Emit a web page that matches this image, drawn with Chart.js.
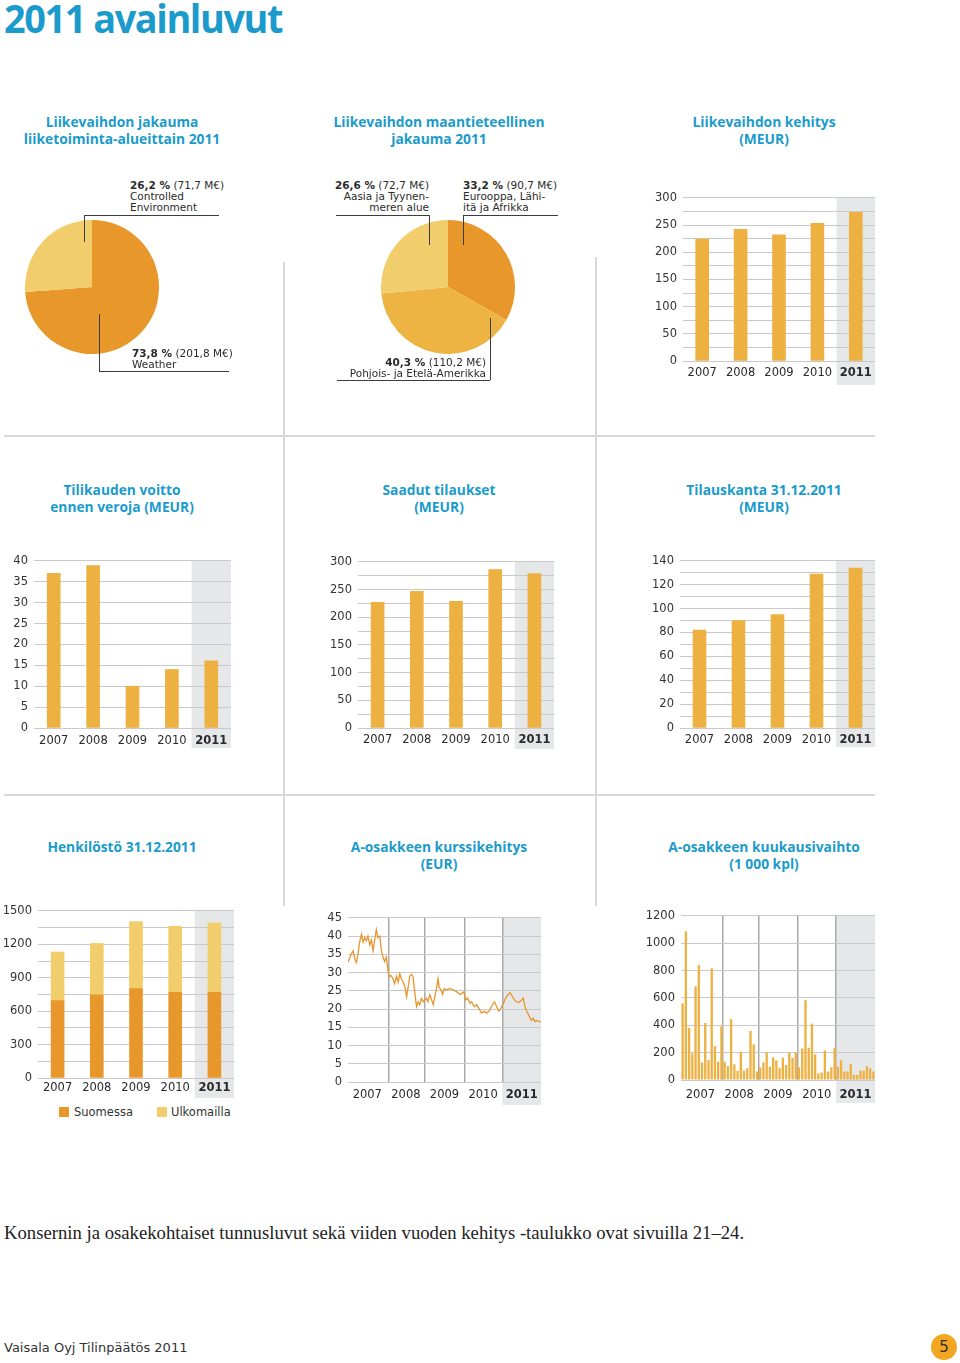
<!DOCTYPE html>
<html lang="fi">
<head>
<meta charset="utf-8">
<title>2011 avainluvut</title>
<script src="https://cdn.jsdelivr.net/npm/chart.js@4.4.1/dist/chart.umd.min.js"></script>
<style>
html,body{margin:0;padding:0;background:#fff;}
body{width:960px;height:1363px;position:relative;overflow:hidden;font-family:"DejaVu Sans",sans-serif;color:#333;}
canvas{position:absolute;}
.h1{position:absolute;left:4px;top:-2px;font-family:"Open Sans",sans-serif;font-weight:700;font-size:40px;line-height:40px;letter-spacing:-1.5px;color:#1B9BCB;white-space:nowrap;transform-origin:0 0;}
.st{position:absolute;width:320px;margin-left:-160px;text-align:center;font-family:"Open Sans",sans-serif;font-weight:700;font-size:13.8px;line-height:17px;color:#1B9BCB;}
.pl{position:absolute;font-size:10.5px;line-height:11px;color:#2b2b2b;white-space:nowrap;}
.ln{position:absolute;background:#3c3c3c;}
.dv{position:absolute;background:#d8d8d8;}
.lg{position:absolute;font-size:11.5px;line-height:14px;color:#333;white-space:nowrap;}
.sw{position:absolute;width:10px;height:10px;}
.note{position:absolute;left:4px;top:1222px;font-family:"Liberation Serif",serif;font-size:18.7px;line-height:22px;color:#222;white-space:nowrap;}
.foot{position:absolute;left:4px;top:1340px;font-size:13px;line-height:16px;color:#333;white-space:nowrap;}
.pg{position:absolute;left:931px;top:1334px;width:26px;height:26px;border-radius:50%;background:#F2A622;color:#333;font-size:15px;line-height:26px;text-align:center;}
</style>
</head>
<body>
<div class="h1" id="h1">2011 avainluvut</div>

<div class="st" style="left:122px;top:113px">Liikevaihdon jakauma<br>liiketoiminta-alueittain 2011</div>
<div class="st" style="left:439px;top:113px">Liikevaihdon maantieteellinen<br>jakauma 2011</div>
<div class="st" style="left:764px;top:113px">Liikevaihdon kehitys<br>(MEUR)</div>
<div class="st" style="left:122px;top:481px">Tilikauden voitto<br>ennen veroja (MEUR)</div>
<div class="st" style="left:439px;top:481px">Saadut tilaukset<br>(MEUR)</div>
<div class="st" style="left:764px;top:481px">Tilauskanta 31.12.2011<br>(MEUR)</div>
<div class="st" style="left:122px;top:838px">Henkilöstö 31.12.2011</div>
<div class="st" style="left:439px;top:838px">A-osakkeen kurssikehitys<br>(EUR)</div>
<div class="st" style="left:764px;top:838px">A-osakkeen kuukausivaihto<br>(1 000 kpl)</div>

<div class="dv" style="left:283px;top:262px;width:2px;height:174px"></div>
<div class="dv" style="left:595px;top:257px;width:2px;height:179px"></div>
<div class="dv" style="left:4px;top:435px;width:871px;height:2px"></div>
<div class="dv" style="left:283px;top:437px;width:2px;height:358px"></div>
<div class="dv" style="left:595px;top:437px;width:2px;height:358px"></div>
<div class="dv" style="left:4px;top:794px;width:871px;height:2px"></div>
<div class="dv" style="left:283px;top:796px;width:2px;height:110px"></div>
<div class="dv" style="left:595px;top:796px;width:2px;height:110px"></div>

<canvas id="cSeg"></canvas>
<canvas id="cReg"></canvas>
<canvas id="cRev"></canvas>
<canvas id="cProfit"></canvas>
<canvas id="cOrders"></canvas>
<canvas id="cBook"></canvas>
<canvas id="cStaff"></canvas>
<canvas id="cStock"></canvas>
<canvas id="cVol"></canvas>

<div id="notes"></div>

<div class="note">Konsernin ja osakekohtaiset tunnusluvut sekä viiden vuoden kehitys -taulukko ovat sivuilla 21–24.</div>
<div class="foot">Vaisala Oyj Tilinpäätös 2011</div>
<div class="pg">5</div>

<script>
// ---------------- DATA ----------------
const years = ['2007', '2008', '2009', '2010', '2011'];

const segmentLabels = ['Weather', 'Controlled Environment'];
const segmentLabelLines = [['Weather'], ['Controlled', 'Environment']];
const segmentShares = [73.8, 26.2];
const segmentMEUR = [201.8, 71.7];

const regionLabels = ['Eurooppa, Lähi-itä ja Afrikka', 'Pohjois- ja Etelä-Amerikka', 'Aasia ja Tyynenmeren alue'];
const regionLabelLines = [['Eurooppa, Lähi-', 'itä ja Afrikka'], ['Pohjois- ja Etelä-Amerikka'], ['Aasia ja Tyynen-', 'meren alue']];
const regionShares = [33.2, 40.3, 26.6];
const regionMEUR = [90.7, 110.2, 72.7];

const revenue = [224.2, 242.3, 232.0, 253.3, 273.5];
const profitBeforeTax = [37.0, 38.9, 10.0, 14.0, 16.1];
const ordersReceived = [227, 247, 229, 286, 279];
const orderBook = [82, 90, 95, 129, 134];

const staffSeries = ['Suomessa', 'Ulkomailla'];
const staffFinland = [694, 747, 803, 770, 770];
const staffAbroad = [437, 461, 602, 591, 624];

// share price: month since 1.1.2007 and price (EUR)
const stockMonth = [0,1.0,1.6,2.1,2.6,3.1,3.6,4.2,4.7,5.2,5.7,6.2,6.8,7.3,7.8,8.3,8.8,9.3,9.9,10.4,10.9,11.4,11.9,12.3,12.7,13.3,14.0,14.5,15.1,15.6,16.1,16.6,17.1,17.7,18.2,18.7,19.2,19.7,20.2,20.8,21.3,21.8,22.3,22.8,23.4,23.9,24.4,24.9,25.4,26.0,26.5,27.0,27.5,28.0,28.3,28.9,29.4,29.9,30.6,31.7,32.7,33.7,34.8,35.5,36.1,36.5,37.2,37.9,38.4,39.2,40.0,40.7,41.5,42.4,43.1,43.8,44.6,45.5,46.2,46.9,47.5,48.3,49.0,49.8,50.4,51.1,51.7,52.4,53.1,54.0,54.5,55.0,55.5,56.1,56.6,57.1,57.6,58.1,58.6,59.2,60];
const stockPrice = [32.9,35.1,36.0,33.7,32.8,35.0,38.3,40.5,38.3,39.6,38.7,40.0,37.6,39.0,36.0,39.0,41.8,39.6,40.0,36.0,34.2,33.0,34.2,31.5,28.8,29.3,28.3,27.0,29.0,27.4,29.7,28.3,27.5,26.1,23.4,26.0,29.0,29.5,29.0,24.3,20.7,22.0,21.2,22.9,22.0,22.5,23.0,22.0,23.9,22.5,21.2,23.5,25.6,28.3,26.0,25.3,24.0,25.6,25.3,25.6,25.3,24.8,24.0,24.3,24.8,22.5,23.0,21.6,22.0,20.7,21.2,20.2,18.9,19.4,18.9,19.4,20.7,22.0,20.7,19.4,20.2,21.6,23.0,24.0,24.5,23.5,22.5,22.0,21.8,22.5,23.0,20.7,19.4,18.5,17.5,16.9,17.5,16.6,16.9,16.6,16.5];

// monthly trading volume (1 000 shares), 60 months
const volumeMonthly = [560,1087,381,194,685,840,129,417,146,817,247,134,393,
  134,103,445,115,67,206,69,86,359,261,62,
  93,129,206,98,165,144,86,163,110,201,163,201,
  93,230,584,235,412,187,48,55,216,62,93,235,
  96,144,62,62,117,38,38,69,67,101,86,62];

// year label positions / year divider positions on the month axis
const stockYearLabelAt = [6, 18, 30, 42, 54];
const stockYearLineAt = [12.7, 24, 36.2, 48];
const volYearLabelAt = [6, 18, 30, 42, 54];
const volYearLineAt = [13, 24, 36, 48];

// ---------------- STYLE ----------------
const BLUE = '#1B9BCB', BAR = '#EDB142', DARK = '#E8982B', MID = '#EDB444', LIGHT = '#F1CE6B';
const GRID = '#C9C9C9', YEARLINE = '#A9A9A9', BAND = '#E6E7E8';
const TICKFONT = 11.5;

Chart.defaults.font.family = '"DejaVu Sans", sans-serif';
Chart.defaults.font.size = TICKFONT;
Chart.defaults.color = '#333';

const bandPlugin = {
  id: 'band',
  beforeDraw(chart, args, opts) {
    if (!opts || opts.start == null || !chart.scales.x) return;
    const x = chart.scales.x, ca = chart.chartArea, ctx = chart.ctx;
    let left;
    if (x.type === 'category') left = (x.getPixelForValue(opts.start - 1) + x.getPixelForValue(opts.start)) / 2;
    else left = x.getPixelForValue(opts.start);
    ctx.save();
    ctx.fillStyle = BAND;
    ctx.fillRect(left, ca.top, ca.right - left, ca.bottom - ca.top + opts.ext);
    ctx.restore();
  }
};
Chart.register(bandPlugin);

function yAxis(max, step, labelEvery) {
  return {
    min: 0, max: max,
    border: {display: false},
    grid: {color: GRID, drawTicks: false, lineWidth: 1},
    ticks: {stepSize: step, autoSkip: false, padding: 6, color: '#333',
      callback: v => (Math.round(v) % labelEvery === 0 ? String(v) : '')}
  };
}
function xCat(pad) {
  return {
    type: 'category', offset: true, border: {display: false},
    grid: {display: false, drawTicks: false},
    ticks: {padding: pad, color: '#2a2a2a', autoSkip: false, maxRotation: 0,
      font: c => ({size: TICKFONT, weight: c.index === 4 ? 'bold' : 'normal'})}
  };
}
function xYears(labelAt, lineAt, pad) {
  return {
    type: 'linear', min: 0, max: 60, offset: false, border: {display: false},
    grid: {drawTicks: false, offset: false, lineWidth: 1.5,
      color: c => (c.tick && lineAt.includes(c.tick.value)) ? YEARLINE : 'rgba(0,0,0,0)'},
    afterBuildTicks: s => { s.ticks = labelAt.concat(lineAt).sort((a, b) => a - b).map(v => ({value: v})); },
    ticks: {autoSkip: false, maxRotation: 0, padding: pad, color: '#2a2a2a',
      callback: v => { const i = labelAt.indexOf(v); return i >= 0 ? years[i] : ''; },
      font: c => ({size: TICKFONT, weight: (c.tick && c.tick.value === labelAt[4]) ? 'bold' : 'normal'})}
  };
}

function makeChart(id, g, build) {
  const cv = document.getElementById(id);
  const PT = 10, PR = 10;
  const left = g.L - g.yW, top = g.T - PT;
  const w = Math.round(g.R - g.L + g.yW + PR);
  let h = Math.round(PT + (g.B - g.T) + g.xH);
  cv.style.left = left + 'px'; cv.style.top = top + 'px';
  const setup = () => { cv.width = w; cv.height = h; cv.style.width = w + 'px'; cv.style.height = h + 'px'; };
  const cfg = () => {
    const c = build();
    Object.assign(c.options, {responsive: false, maintainAspectRatio: false, animation: false, events: []});
    c.options.layout = {padding: {top: PT, right: PR, bottom: 0, left: 0}};
    c.options.scales.x.afterFit = s => { s.height = g.xH; };
    c.options.scales.y.afterFit = s => { s.width = g.yW; };
    c.options.plugins = Object.assign({legend: {display: false}, tooltip: {enabled: false}}, c.options.plugins || {});
    return c;
  };
  setup();
  let chart = new Chart(cv, cfg());
  const dy = Math.round((PT + g.B - g.T) - chart.chartArea.bottom);
  if (dy !== 0) { chart.destroy(); h += dy; setup(); chart = new Chart(cv, cfg()); }
  return chart;
}

function simpleBar(id, g, values, yMax, step, every, pad, ext) {
  return makeChart(id, g, () => ({
    type: 'bar',
    data: {labels: years, datasets: [{data: values, backgroundColor: BAR, barThickness: 13, borderWidth: 0}]},
    options: {
      scales: {x: xCat(pad), y: yAxis(yMax, step, every)},
      plugins: {band: {start: 4, ext: ext}}
    }
  }));
}

// ---------------- PIES ----------------
function pie(id, left, top, size, data, colors) {
  const cv = document.getElementById(id);
  cv.width = size; cv.height = size;
  cv.style.left = left + 'px'; cv.style.top = top + 'px';
  cv.style.width = size + 'px'; cv.style.height = size + 'px';
  return new Chart(cv, {
    type: 'pie',
    data: {datasets: [{data: data, backgroundColor: colors, borderWidth: 0, hoverBorderWidth: 0, hoverOffset: 0}]},
    options: {responsive: false, maintainAspectRatio: false, animation: false, events: [],
      layout: {padding: 0}, plugins: {legend: {display: false}, tooltip: {enabled: false}}}
  });
}
pie('cSeg', 25, 220, 134, segmentShares, [DARK, LIGHT]);
pie('cReg', 381, 220, 134, regionShares, [DARK, MID, LIGHT]);

// pie annotations
const fmt = v => v.toFixed(1).replace('.', ',');
function noteHTML(share, meur, lines) {
  return '<b>' + fmt(share) + ' %</b> (' + fmt(meur) + ' M€)<br>' + lines.join('<br>');
}
const pieNotes = [
  {share: segmentShares[1], meur: segmentMEUR[1], lines: segmentLabelLines[1], x: 130, top: 180, align: 'left'},
  {share: segmentShares[0], meur: segmentMEUR[0], lines: segmentLabelLines[0], x: 132, top: 348, align: 'left'},
  {share: regionShares[2], meur: regionMEUR[2], lines: regionLabelLines[2], x: 429, top: 180, align: 'right'},
  {share: regionShares[0], meur: regionMEUR[0], lines: regionLabelLines[0], x: 463, top: 180, align: 'left'},
  {share: regionShares[1], meur: regionMEUR[1], lines: regionLabelLines[1], x: 486, top: 357, align: 'right'}
];
const notes = document.getElementById('notes');
pieNotes.forEach(n => {
  const d = document.createElement('div');
  d.className = 'pl';
  d.style.top = n.top + 'px';
  if (n.align === 'left') d.style.left = n.x + 'px';
  else { d.style.right = (960 - n.x) + 'px'; d.style.textAlign = 'right'; }
  d.innerHTML = noteHTML(n.share, n.meur, n.lines);
  notes.appendChild(d);
});
const leaders = [
  [84,215,219,215],[84,215,84,242],
  [99,371,229,371],[99,314,99,371],
  [336,215,429,215],[429,215,429,245],
  [463,215,558,215],[463,215,463,245],
  [337,380,490,380],[490,318,490,380]
];
leaders.forEach(([x1,y1,x2,y2]) => {
  const d = document.createElement('div');
  d.className = 'ln';
  d.style.left = x1 + 'px'; d.style.top = y1 + 'px';
  d.style.width = Math.max(1, x2 - x1) + 'px';
  d.style.height = Math.max(1, y2 - y1) + 'px';
  notes.appendChild(d);
});

// ---------------- BAR CHARTS ----------------
simpleBar('cRev',    {L: 683, R: 875, T: 195, B: 361, yW: 46, xH: 26}, revenue, 300, 25, 50, 5, 24);
simpleBar('cProfit', {L: 34,  R: 231, T: 558, B: 728, yW: 30, xH: 22}, profitBeforeTax, 40, 5, 5, 6, 20);
simpleBar('cOrders', {L: 358, R: 554, T: 559, B: 728, yW: 40, xH: 22}, ordersReceived, 300, 25, 50, 5, 21);
simpleBar('cBook',   {L: 680, R: 875, T: 558, B: 728, yW: 40, xH: 22}, orderBook, 140, 10, 20, 5.5, 19);

// stacked personnel
makeChart('cStaff', {L: 38, R: 234, T: 908, B: 1078, yW: 36, xH: 20}, () => ({
  type: 'bar',
  data: {labels: years, datasets: [
    {label: staffSeries[0], data: staffFinland, backgroundColor: DARK, barThickness: 13, borderWidth: 0},
    {label: staffSeries[1], data: staffAbroad, backgroundColor: LIGHT, barThickness: 13, borderWidth: 0}
  ]},
  options: {
    scales: {x: Object.assign(xCat(3), {stacked: true}), y: Object.assign(yAxis(1500, 150, 300), {stacked: true})},
    plugins: {band: {start: 4, ext: 20}}
  }
}));
// legend for personnel chart
[[59, 74, DARK, staffSeries[0]], [157, 171, LIGHT, staffSeries[1]]].forEach(([bx, tx, col, txt]) => {
  const s = document.createElement('div'); s.className = 'sw';
  s.style.left = bx + 'px'; s.style.top = '1107px'; s.style.background = col;
  const t = document.createElement('div'); t.className = 'lg';
  t.style.left = tx + 'px'; t.style.top = '1105px'; t.textContent = txt;
  notes.appendChild(s); notes.appendChild(t);
});

// share price line
makeChart('cStock', {L: 348, R: 541, T: 915, B: 1082, yW: 30, xH: 24}, () => ({
  type: 'line',
  data: {datasets: [{data: stockMonth.map((m, i) => ({x: m, y: stockPrice[i]})),
    borderColor: '#E8952F', borderWidth: 1.3, pointRadius: 0, fill: false, tension: 0}]},
  options: {
    scales: {x: xYears(stockYearLabelAt, stockYearLineAt, 6.5), y: yAxis(45, 5, 5)},
    plugins: {band: {start: 48, ext: 23}}
  }
}));

// monthly volume bars
makeChart('cVol', {L: 681, R: 875, T: 913, B: 1080, yW: 40, xH: 24}, () => ({
  type: 'bar',
  data: {datasets: [{data: volumeMonthly.map((v, i) => ({x: i + 0.5, y: v})),
    backgroundColor: BAR, barPercentage: 0.72, categoryPercentage: 1.0, borderWidth: 0}]},
  options: {
    scales: {x: xYears(volYearLabelAt, volYearLineAt, 8.5), y: yAxis(1200, 200, 200)},
    plugins: {band: {start: 48, ext: 23}}
  }
}));

// fit heading width
const h1 = document.getElementById('h1');
const hw = h1.getBoundingClientRect().width;
h1.style.transform = 'scaleX(' + (278 / hw) + ')';
</script>
</body>
</html>
